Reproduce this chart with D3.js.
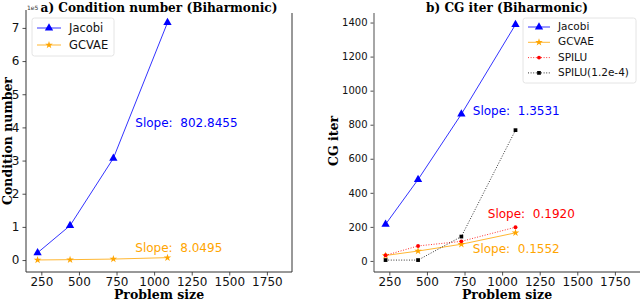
<!DOCTYPE html>
<html>
<head>
<meta charset="utf-8">
<script src="https://cdn.jsdelivr.net/npm/d3@7"></script>
<style>
  body { margin: 0; background: #fff; }
  svg { display: block; }
  .tick text { font-family: "DejaVu Sans", sans-serif; fill: #111; }
  .tick line { stroke: #222; stroke-width: 0.8; }
</style>
</head>
<body>
<div id="chart"></div>
<script>
// problem sizes (x) shared by both panels
const sizes = [225, 441, 729, 1089]
const xTicks = [250, 500, 750, 1000, 1250, 1500, 1750]

// a) condition number
const condJacobi = [0.22e5, 1.04e5, 3.07e5, 7.16e5]
const condGcvae = [300, 1200, 3000, 7300]
const condTicks = [0, 1e5, 2e5, 3e5, 4e5, 5e5, 6e5, 7e5]
const condSlopes = ["Slope:  802.8455", "Slope:  8.0495"]

// b) CG iterations
const iterJacobi = [215, 478, 862, 1388]
const iterGcvae = [32, 58, 98, 165]
const iterSpilu = [33, 88, 115, 198]
const iterSpiluTol = [5, 5, 143, 768]
const iterTicks = [0, 200, 400, 600, 800, 1000, 1200, 1400]
const iterSlopes = ["Slope:  1.3531", "Slope:  0.1920", "Slope:  0.1552"]

const width = 640, height = 299
const svg = d3.select("#chart").append("svg")
    .attr("width", width)
    .attr("height", height)

const styles = {
    Jacobi: { color: "#0000ff", symbol: d3.symbolTriangle, size: 30, dash: null },
    GCVAE: { color: "#ffa500", symbol: d3.symbolStar, size: 18, dash: null },
    SPILU: { color: "#ff0000", symbol: d3.symbolCircle, size: 12, dash: "1,1.6" },
    "SPILU(1.2e-4)": { color: "#000000", symbol: d3.symbolSquare, size: 14, dash: "1,1.6" }
}

function panel(cfg) {
    const g = svg.append("g")
    const x = d3.scaleLinear().domain([148, 1917]).range([cfg.left, cfg.right])
    const y = d3.scaleLinear().domain(cfg.yDomain).range([272, cfg.top])

    // axes
    g.append("g")
        .attr("transform", "translate(0,272)")
        .call(d3.axisBottom(x).tickValues(xTicks).tickSize(3.5).tickPadding(2)
            .tickFormat(d3.format("d")))
        .call(a => a.select(".domain").remove())
        .selectAll("text").attr("font-size", 12)

    g.append("g")
        .attr("transform", `translate(${cfg.left},0)`)
        .call(d3.axisLeft(y).tickValues(cfg.yTicks).tickSize(3.5).tickPadding(3)
            .tickFormat(cfg.yFormat))
        .call(a => a.select(".domain").remove())
        .selectAll("text").attr("font-size", cfg.yFont)

    // spines
    g.append("line").attr("x1", cfg.left).attr("x2", cfg.left)
        .attr("y1", cfg.top).attr("y2", 272)
        .attr("stroke", cfg.leftSpine).attr("stroke-width", cfg.leftSpineW)
    g.append("line").attr("x1", cfg.left).attr("x2", cfg.right)
        .attr("y1", 272).attr("y2", 272)
        .attr("stroke", "#333").attr("stroke-width", 1)
    if (cfg.right < width) {
        g.append("line").attr("x1", cfg.right).attr("x2", cfg.right)
            .attr("y1", cfg.top + 3).attr("y2", 272)
            .attr("stroke", "#333").attr("stroke-width", 1)
    }

    // series
    const line = d3.line().x((d, i) => x(sizes[i])).y(d => y(d))
    cfg.series.forEach(s => {
        const st = styles[s.name]
        g.append("path")
            .datum(s.values)
            .attr("fill", "none")
            .attr("stroke", st.color)
            .attr("stroke-opacity", 0.8)
            .attr("stroke-width", 1)
            .attr("stroke-dasharray", st.dash)
            .attr("d", line)
        g.selectAll(null)
            .data(s.values)
            .join("path")
            .attr("transform", (d, i) => `translate(${x(sizes[i])},${y(d)})`)
            .attr("d", d3.symbol(st.symbol, st.size))
            .attr("fill", st.color)
    })

    // slope annotations
    cfg.notes.forEach(n => {
        g.append("text")
            .attr("x", x(n.at[0])).attr("y", y(n.at[1]))
            .attr("font-family", "DejaVu Sans").attr("font-size", 12)
            .attr("dominant-baseline", "middle")
            .attr("fill", n.color)
            .style("white-space", "pre")
            .text(n.text)
    })

    // legend
    const lg = g.append("g").attr("transform", `translate(${cfg.legend.x},${cfg.legend.y})`)
    lg.append("rect")
        .attr("width", cfg.legend.w).attr("height", cfg.legend.h)
        .attr("rx", 2.5)
        .attr("fill", "#fff").attr("fill-opacity", 0.85)
        .attr("stroke", "#ddd").attr("stroke-width", 0.8)
    cfg.series.forEach((s, i) => {
        const st = styles[s.name]
        const yy = cfg.legend.pad + i * cfg.legend.step
        lg.append("line")
            .attr("x1", 5).attr("x2", 5 + cfg.legend.handle)
            .attr("y1", yy).attr("y2", yy)
            .attr("stroke", st.color).attr("stroke-opacity", 0.8)
            .attr("stroke-dasharray", st.dash)
        lg.append("path")
            .attr("transform", `translate(${5 + cfg.legend.handle / 2},${yy})`)
            .attr("d", d3.symbol(st.symbol, st.size))
            .attr("fill", st.color)
        lg.append("text")
            .attr("x", cfg.legend.handle + 13).attr("y", yy)
            .attr("dominant-baseline", "middle")
            .attr("font-family", "DejaVu Sans").attr("font-size", cfg.legend.font)
            .attr("fill", "#111")
            .text(s.name)
    })

    // titles
    const mid = (cfg.left + cfg.right) / 2
    const title = g.append("text")
        .attr("x", cfg.titleX).attr("y", 11.5)
        .attr("text-anchor", "middle")
        .attr("font-family", "DejaVu Serif").attr("font-weight", "bold")
        .attr("font-size", 12)
        .text(cfg.title)
    // fit the title to the width it has in the reference
    const tw = title.node().getComputedTextLength()
    title.attr("font-size", Math.min(12.5, 12 * cfg.titleW / tw))

    g.append("text")
        .attr("x", mid).attr("y", 299)
        .attr("text-anchor", "middle")
        .attr("font-family", "DejaVu Serif").attr("font-weight", "bold")
        .attr("font-size", 12.5)
        .text("Problem size")
    g.append("text")
        .attr("transform", `translate(${cfg.yLabelX},141) rotate(-90)`)
        .attr("text-anchor", "middle")
        .attr("font-family", "DejaVu Serif").attr("font-weight", "bold")
        .attr("font-size", 12.5)
        .text(cfg.yLabel)
    return g
}

const left = panel({
    left: 26, right: 292, top: 10,
    yDomain: [-0.36e5, 7.54e5], yTicks: condTicks, yFormat: d => d / 1e5, yFont: 12,
    leftSpine: "#333", leftSpineW: 1,
    series: [{ name: "Jacobi", values: condJacobi }, { name: "GCVAE", values: condGcvae }],
    notes: [
        { text: condSlopes[0], at: [875, 4.13e5], color: "#0000ff" },
        { text: condSlopes[1], at: [875, 0.34e5], color: "#ffa500" }
    ],
    legend: { x: 32, y: 18, w: 82, h: 38, pad: 10, step: 17, handle: 24, font: 11.5 },
    title: "a) Condition number (Biharmonic)", titleX: 159, titleW: 237,
    yLabel: "Condition number", yLabelX: 12
})
// offset text for the scaled y axis
left.append("text")
    .attr("x", 27).attr("y", 10)
    .attr("font-family", "DejaVu Sans").attr("font-size", 6)
    .attr("fill", "#333")
    .text("1e5")

panel({
    left: 374, right: 640, top: 13,
    yDomain: [-65, 1456], yTicks: iterTicks, yFormat: d3.format("d"), yFont: 10,
    leftSpine: "#888", leftSpineW: 1.5,
    series: [
        { name: "Jacobi", values: iterJacobi },
        { name: "GCVAE", values: iterGcvae },
        { name: "SPILU", values: iterSpilu },
        { name: "SPILU(1.2e-4)", values: iterSpiluTol }
    ],
    notes: [
        { text: iterSlopes[0], at: [805, 875], color: "#0000ff" },
        { text: iterSlopes[1], at: [905, 275], color: "#ff0000" },
        { text: iterSlopes[2], at: [805, 70], color: "#ffa500" }
    ],
    legend: { x: 523, y: 18, w: 113, h: 65, pad: 9, step: 15.3, handle: 22, font: 10.5 },
    title: "b) CG iter (Biharmonic)", titleX: 507, titleW: 162,
    yLabel: "CG iter", yLabelX: 338
})
</script>
</body>
</html>
